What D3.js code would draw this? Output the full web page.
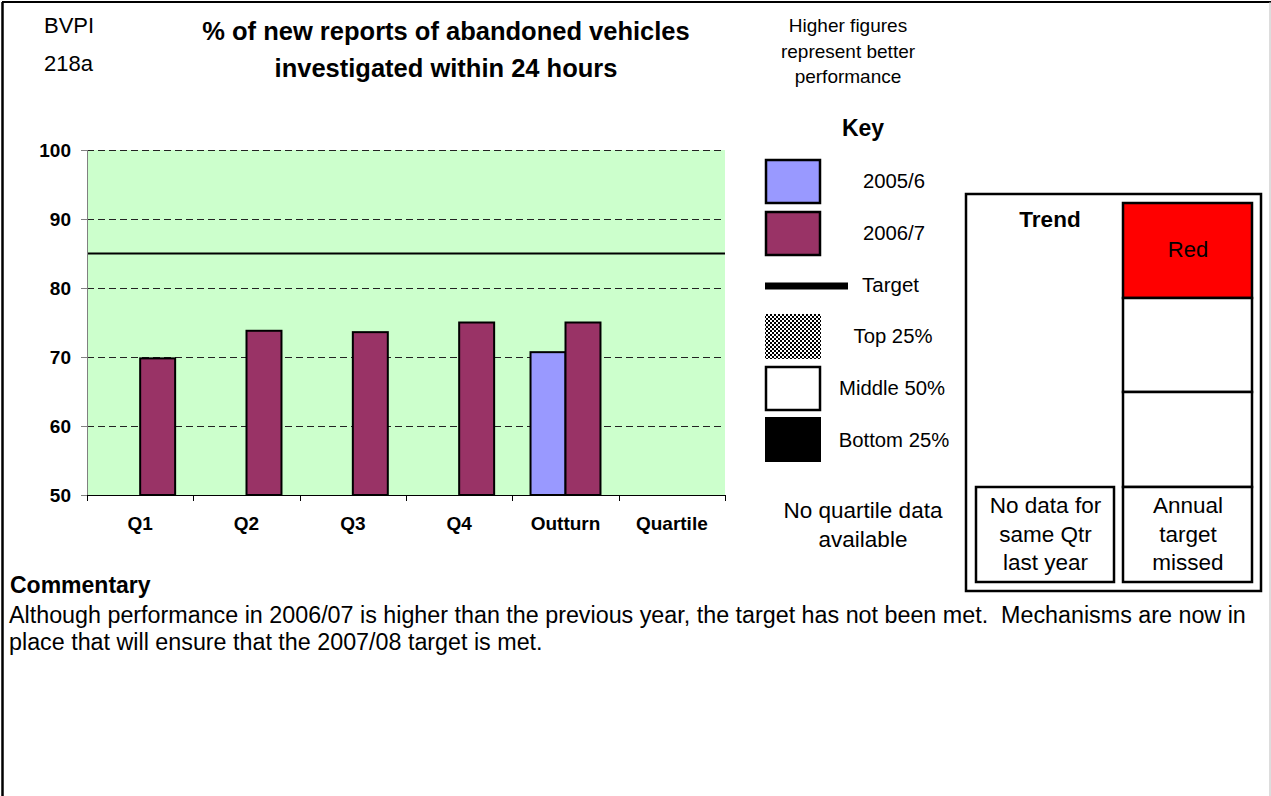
<!DOCTYPE html>
<html lang="en">
<head>
  <meta charset="UTF-8">
  <title>BVPI 218a</title>
  <style>
    body { margin: 0; background: #fff; }
    svg { display: block; font-family: "Liberation Sans", Arial, sans-serif; }
    .axis text { font-size: 19px; font-weight: bold; fill: #000; }
    .axis path, .axis line { shape-rendering: crispEdges; }
    .grid line { stroke: #222; stroke-dasharray: 7,4; shape-rendering: crispEdges; }
    .bar { stroke: #000; stroke-width: 2px; }
  </style>
</head>
<body>
<script src="https://cdnjs.cloudflare.com/ajax/libs/d3/7.8.5/d3.min.js"></script>
<script>
  // chart data
  var categories = ["Q1", "Q2", "Q3", "Q4", "Outturn", "Quartile"];
  var seriesNames = ["2005/6", "2006/7"];
  var values2005 = [null, null, null, null, 70.7, null];
  var values2006 = [69.8, 73.8, 73.6, 75.0, 75.0, null];
  var target = 85;
  var yTicks = [50, 60, 70, 80, 90, 100];
  var colours = {"2005/6": "#9999ff", "2006/7": "#993366"};

  var W = 1271, H = 796;
  var plot = {left: 87, right: 725, top: 150, bottom: 495};

  var svg = d3.select("body").append("svg")
      .attr("width", W)
      .attr("height", H);

  // pattern for the top quartile swatch
  var pat = svg.append("defs").append("pattern")
      .attr("id", "checks")
      .attr("width", 4).attr("height", 4)
      .attr("patternUnits", "userSpaceOnUse");
  pat.append("rect").attr("width", 4).attr("height", 4).attr("fill", "#fff");
  pat.append("rect").attr("width", 2).attr("height", 2).attr("fill", "#000");
  pat.append("rect").attr("x", 2).attr("y", 2).attr("width", 2).attr("height", 2).attr("fill", "#000");

  // page frame
  svg.append("line").attr("x1", 2).attr("y1", 2).attr("x2", W).attr("y2", 2)
      .attr("stroke", "#000").attr("stroke-width", 2);
  svg.append("line").attr("x1", 2.5).attr("y1", 2).attr("x2", 2.5).attr("y2", H)
      .attr("stroke", "#000").attr("stroke-width", 2.5);
  svg.append("line").attr("x1", 1270).attr("y1", 2).attr("x2", 1270).attr("y2", H)
      .attr("stroke", "#bbb").attr("stroke-width", 1);

  // scales
  var x = d3.scaleBand()
      .domain(categories)
      .range([plot.left, plot.right]);

  var xInner = d3.scaleBand()
      .domain(seriesNames)
      .range([0, x.bandwidth()])
      .paddingOuter(0.52);

  var y = d3.scaleLinear()
      .domain([50, 100])
      .range([plot.bottom, plot.top]);

  // plot background
  svg.append("rect")
      .attr("x", plot.left).attr("y", plot.top)
      .attr("width", plot.right - plot.left)
      .attr("height", plot.bottom - plot.top)
      .attr("fill", "#ccffcc");

  // dashed gridlines
  svg.append("g")
      .attr("class", "grid")
      .selectAll("line")
      .data(yTicks.filter(function (d) { return d > 50; }))
      .join("line")
      .attr("x1", plot.left).attr("x2", plot.right)
      .attr("y1", function (d) { return y(d); })
      .attr("y2", function (d) { return y(d); });

  // target line
  svg.append("line")
      .attr("x1", plot.left).attr("x2", plot.right)
      .attr("y1", y(target)).attr("y2", y(target))
      .attr("stroke", "#000").attr("stroke-width", 2);

  // bars
  var rows = [];
  categories.forEach(function (c, i) {
    if (values2005[i] != null) rows.push({cat: c, s: "2005/6", v: values2005[i]});
    if (values2006[i] != null) rows.push({cat: c, s: "2006/7", v: values2006[i]});
  });

  svg.append("g").selectAll("rect")
      .data(rows)
      .join("rect")
      .attr("class", "bar")
      .attr("x", function (d) { return x(d.cat) + xInner(d.s); })
      .attr("y", function (d) { return y(d.v); })
      .attr("width", xInner.bandwidth())
      .attr("height", function (d) { return y(50) - y(d.v); })
      .attr("fill", function (d) { return colours[d.s]; });

  // y axis
  var yAxis = svg.append("g")
      .attr("class", "axis")
      .attr("transform", "translate(" + plot.left + ",0)")
      .call(d3.axisLeft(y).tickValues(yTicks).tickSize(6).tickPadding(10));
  yAxis.select(".domain").attr("stroke", "#808080");
  yAxis.selectAll(".tick line").attr("stroke", "#808080");

  // x axis: labels centred on the bands
  var xAxis = svg.append("g")
      .attr("class", "axis")
      .attr("transform", "translate(0," + plot.bottom + ")")
      .call(d3.axisBottom(x).tickSize(0).tickPadding(22));
  xAxis.select(".domain").attr("stroke", "#000");

  // x axis: tick marks between categories
  var xEdges = d3.scaleLinear().domain([0, categories.length]).range([plot.left, plot.right]);
  var xTicks = svg.append("g")
      .attr("class", "axis")
      .attr("transform", "translate(0," + plot.bottom + ")")
      .call(d3.axisBottom(xEdges).ticks(categories.length).tickSize(6).tickFormat(""));
  xTicks.select(".domain").attr("stroke", "#000");
  xTicks.selectAll(".tick line").attr("stroke", "#000");

  // header texts
  svg.append("text").attr("x", 44).attr("y", 33)
      .attr("font-size", 22).text("BVPI");
  svg.append("text").attr("x", 44).attr("y", 71)
      .attr("font-size", 22).text("218a");

  var title = ["% of new reports of abandoned vehicles", "investigated within 24 hours"];
  svg.append("g").selectAll("text")
      .data(title)
      .join("text")
      .attr("x", 446)
      .attr("y", function (d, i) { return 40 + i * 37; })
      .attr("text-anchor", "middle")
      .attr("font-size", 25.5)
      .attr("font-weight", "bold")
      .text(function (d) { return d; });

  var note = ["Higher figures", "represent better", "performance"];
  svg.append("g").selectAll("text")
      .data(note)
      .join("text")
      .attr("x", 848)
      .attr("y", function (d, i) { return 32 + i * 25.5; })
      .attr("text-anchor", "middle")
      .attr("font-size", 19)
      .text(function (d) { return d; });

  // key
  svg.append("text").attr("x", 863).attr("y", 136)
      .attr("text-anchor", "middle").attr("font-size", 23).attr("font-weight", "bold")
      .text("Key");

  var keyItems = [
    {label: "2005/6", fill: colours["2005/6"], y: 159, stroke: true, tx: 863, anchor: "start", ty: 188},
    {label: "2006/7", fill: colours["2006/7"], y: 211, stroke: true, tx: 863, anchor: "start", ty: 240},
    {label: "Top 25%", fill: "url(#checks)", y: 314, stroke: false, tx: 893, anchor: "middle", ty: 343},
    {label: "Middle 50%", fill: "#fff", y: 366, stroke: true, tx: 892, anchor: "middle", ty: 395},
    {label: "Bottom 25%", fill: "#000", y: 417, stroke: false, tx: 894, anchor: "middle", ty: 447}
  ];
  var key = svg.append("g");
  key.selectAll("rect")
      .data(keyItems)
      .join("rect")
      .attr("x", function (d) { return d.stroke ? 766 : 765; })
      .attr("y", function (d) { return d.stroke ? d.y + 1 : d.y; })
      .attr("width", function (d) { return d.stroke ? 54 : 56; })
      .attr("height", function (d) { return d.stroke ? 43 : 45; })
      .attr("fill", function (d) { return d.fill; })
      .attr("stroke", function (d) { return d.stroke ? "#000" : "none"; })
      .attr("stroke-width", 2.5);
  key.selectAll("text")
      .data(keyItems)
      .join("text")
      .attr("x", function (d) { return d.tx; })
      .attr("y", function (d) { return d.ty; })
      .attr("text-anchor", function (d) { return d.anchor; })
      .attr("font-size", 20.3)
      .text(function (d) { return d.label; });

  key.append("line")
      .attr("x1", 765).attr("x2", 848).attr("y1", 286).attr("y2", 286)
      .attr("stroke", "#000").attr("stroke-width", 7);
  key.append("text").attr("x", 862).attr("y", 292)
      .attr("font-size", 20.5).text("Target");

  var noQuartile = ["No quartile data", "available"];
  svg.append("g").selectAll("text")
      .data(noQuartile)
      .join("text")
      .attr("x", 863)
      .attr("y", function (d, i) { return 518 + i * 29; })
      .attr("text-anchor", "middle")
      .attr("font-size", 22.5)
      .text(function (d) { return d; });

  // trend panel
  var trend = svg.append("g");
  trend.append("rect")
      .attr("x", 966).attr("y", 194).attr("width", 295).attr("height", 397)
      .attr("fill", "#fff").attr("stroke", "#000").attr("stroke-width", 2.5);

  var trendCells = [
    {y0: 203, y1: 298, fill: "#ff0000"},
    {y0: 298, y1: 392, fill: "#fff"},
    {y0: 392, y1: 487, fill: "#fff"},
    {y0: 487, y1: 582, fill: "#fff"}
  ];
  trend.selectAll("rect.cell")
      .data(trendCells)
      .join("rect")
      .attr("class", "cell")
      .attr("x", 1123).attr("width", 129)
      .attr("y", function (d) { return d.y0; })
      .attr("height", function (d) { return d.y1 - d.y0; })
      .attr("fill", function (d) { return d.fill; })
      .attr("stroke", "#000").attr("stroke-width", 2.5);

  trend.append("rect")
      .attr("x", 976).attr("y", 487).attr("width", 138).attr("height", 95)
      .attr("fill", "#fff").attr("stroke", "#000").attr("stroke-width", 2.5);

  trend.append("text").attr("x", 1050).attr("y", 227)
      .attr("text-anchor", "middle").attr("font-size", 22.5).attr("font-weight", "bold")
      .text("Trend");
  trend.append("text").attr("x", 1188).attr("y", 257)
      .attr("text-anchor", "middle").attr("font-size", 22)
      .text("Red");

  var leftNote = ["No data for", "same Qtr", "last year"];
  var rightNote = ["Annual", "target", "missed"];
  [[leftNote, 1045.5], [rightNote, 1188]].forEach(function (pair) {
    trend.append("g").selectAll("text")
        .data(pair[0])
        .join("text")
        .attr("x", pair[1])
        .attr("y", function (d, i) { return 513 + i * 28.5; })
        .attr("text-anchor", "middle")
        .attr("font-size", 22.5)
        .text(function (d) { return d; });
  });

  // commentary
  svg.append("text").attr("x", 10).attr("y", 593)
      .attr("font-size", 23).attr("font-weight", "bold")
      .text("Commentary");
  var commentary = [
    "Although performance in 2006/07 is higher than the previous year, the target has not been met.  Mechanisms are now in",
    "place that will ensure that the 2007/08 target is met."
  ];
  svg.append("g").selectAll("text")
      .data(commentary)
      .join("text")
      .attr("x", 9)
      .attr("y", function (d, i) { return 623 + i * 27; })
      .attr("font-size", 23.3)
      .attr("xml:space", "preserve")
      .style("white-space", "pre")
      .text(function (d) { return d; });
</script>
</body>
</html>
